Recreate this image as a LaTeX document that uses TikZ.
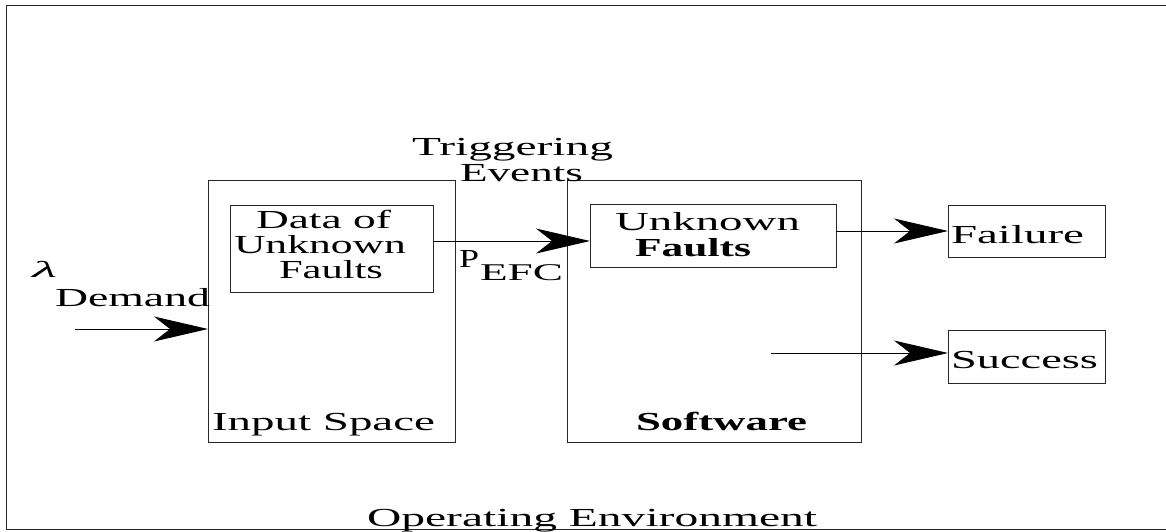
\documentclass[tikz,border=0pt]{standalone}
\usepackage{fontspec}
\setmainfont{Liberation Serif}
\usetikzlibrary{arrows.meta}

% stretch a text horizontally to a given width, keeping its height
\newcommand{\stretchto}[2]{\resizebox{#1}{\height}{#2}}

\begin{document}
\begin{tikzpicture}[x=1pt,y=-1pt,
  frame/.style={draw=black!85, line width=1pt},
  box/.style={draw=black!85, line width=1pt, inner sep=0pt, outer sep=0pt},
  lbl/.style={anchor=base west, inner sep=0pt, outer sep=0pt,
              font=\fontsize{26}{26}\selectfont},
  sub/.style={anchor=base west, inner sep=0pt, outer sep=0pt,
              font=\fontsize{24}{24}\selectfont},
  arr/.style={line width=1pt,
              -{Stealth[length=54pt,width=25pt,inset=16pt]}}]

\useasboundingbox (0,0) rectangle (1166,531);
\fill[white] (0,0) rectangle (1166,531);

% operating environment frame
\draw[frame] (1166,5) -- (6,5) -- (6,529) -- (1166,529);

% boxes
\node[box, minimum width=247pt, minimum height=262pt] (inbox) at (331.5,311) {};
\node[box, minimum width=203pt, minimum height=87pt]  (data)  at (331.5,248.5) {};
\node[box, minimum width=294pt, minimum height=262pt] (soft)  at (714,311) {};
\node[box, minimum width=246pt, minimum height=63pt]  (uf)    at (713,235.5) {};
\node[box, minimum width=157pt, minimum height=52pt]  (fail)  at (1026.5,231) {};
\node[box, minimum width=157pt, minimum height=53pt]  (succ)  at (1026.5,356.5) {};

% labels
\node[anchor=base west, inner sep=0pt, font=\fontsize{23}{23}\selectfont\itshape]
  (lam) at (32,277) {\stretchto{25pt}{λ}};
\node[lbl] (demand) at (55,306)  {\stretchto{155pt}{Demand}};
\node[lbl] (trig)   at (412,155) {\stretchto{201pt}{Triggering}};
\node[lbl] (ev)     at (460,181) {\stretchto{123pt}{Events}};
\node[lbl] (d1)     at (256,228) {\stretchto{135pt}{Data of}};
\node[lbl] (d2)     at (234,253) {\stretchto{172pt}{Unknown}};
\node[lbl] (d3)     at (279,278) {\stretchto{104pt}{Faults}};
\node[lbl] (pp)     at (459,267) {\stretchto{20pt}{P}};
\node[sub] (pefc)   at (480,280) {\stretchto{83pt}{EFC}};
\node[lbl] (u1)     at (615,230) {\stretchto{185pt}{Unknown}};
\node[lbl] (u2)     at (635,256) {\stretchto{116pt}{\bfseries Faults}};
\node[lbl] (inlbl)  at (212,430) {\stretchto{223pt}{Input Space}};
\node[lbl] (swlbl)  at (636,430) {\stretchto{171pt}{\bfseries Software}};
\node[lbl] (flbl)   at (951,243) {\stretchto{133pt}{Failure}};
\node[lbl] (slbl)   at (951,368) {\stretchto{147pt}{Success}};
\node[lbl] (oplbl)  at (367,526) {\stretchto{450pt}{Operating Environment}};

% connectors
\coordinate (dstart) at (75,329);
\draw[arr] (dstart) -- (inbox.west |- dstart);

\coordinate (trigstart) at ([yshift=7.5pt]data.east);
\draw[arr] (trigstart) -- (uf.west |- trigstart);

\draw[arr] (uf.east |- fail.west) -- (fail.west);

\coordinate (sstart) at (771,353);
\draw[arr] (sstart) -- (succ.west |- sstart);

\end{tikzpicture}
\end{document}
